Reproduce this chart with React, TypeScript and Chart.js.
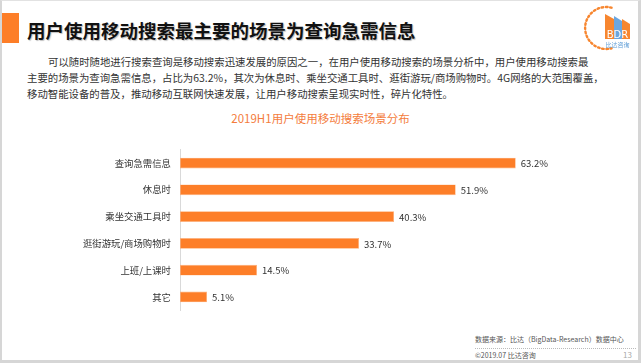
import React, { useEffect, useRef } from "react";
import { Chart, registerables } from "chart.js";

Chart.register(...registerables);

const categories = ["查询急需信息", "休息时", "乘坐交通工具时", "逛街游玩/商场购物时", "上班/上课时", "其它"];
const shares = [63.2, 51.9, 40.3, 33.7, 14.5, 5.1];
const axisMax = 80;

const chartTitle = "2019H1用户使用移动搜索场景分布";
const heading = "用户使用移动搜索最主要的场景为查询急需信息";
const paragraphLines = [
  "可以随时随地进行搜索查询是移动搜索迅速发展的原因之一，在用户使用移动搜索的场景分析中，用户使用移动搜索最",
  "主要的场景为查询急需信息，占比为63.2%，其次为休息时、乘坐交通工具时、逛街游玩/商场购物时。4G网络的大范围覆盖，",
  "移动智能设备的普及，推动移动互联网快速发展，让用户移动搜索呈现实时性，碎片化特性。",
];
const sourceText = "数据来源：比达（BigData-Research）数据中心";
const copyrightText = "©2019.07 比达咨询";
const pageNumber = "13";

const FONT = "'Noto Sans CJK SC', 'Noto Sans', sans-serif";
const ORANGE = "#FD7E28";

const valueLabels = {
  id: "valueLabels",
  afterDatasetsDraw(chart: any) {
    const ctx = chart.ctx;
    const meta = chart.getDatasetMeta(0);
    ctx.save();
    ctx.font = `9.5px ${FONT}`;
    ctx.fillStyle = "#333333";
    ctx.textAlign = "left";
    ctx.textBaseline = "middle";
    meta.data.forEach((bar: any, i: number) => {
      const v = chart.data.datasets[0].data[i];
      ctx.fillText(`${Number(v).toFixed(1)}%`, bar.x + 5, bar.y + 0.5);
    });
    ctx.restore();
  },
};

function BarChart() {
  const ref = useRef<HTMLCanvasElement | null>(null);
  useEffect(() => {
    if (!ref.current) return;
    const chart = new Chart(ref.current, {
      type: "bar",
      data: {
        labels: categories,
        datasets: [
          {
            data: shares,
            backgroundColor: ORANGE,
            borderColor: "#FDB27E",
            borderWidth: 0.6,
            borderSkipped: false,
            barPercentage: 0.4,
            categoryPercentage: 1,
          },
        ],
      },
      options: {
        indexAxis: "y",
        animation: false,
        responsive: false,
        maintainAspectRatio: false,
        layout: { padding: { top: 5, bottom: 7, left: 0, right: 36 } },
        plugins: {
          legend: { display: false },
          tooltip: { enabled: false },
          title: { display: false },
        },
        scales: {
          x: {
            display: false,
            min: 0,
            max: axisMax,
          },
          y: {
            grid: { display: false, drawTicks: false },
            border: { display: true, color: "#D9D9D9", width: 1 },
            ticks: {
              padding: 9,
              color: "#333333",
              font: { family: FONT, size: 9.4 },
            },
            afterFit(scale: any) {
              scale.width = 180;
            },
          },
        },
      },
      plugins: [valueLabels],
    } as any);
    return () => chart.destroy();
  }, []);
  return (
    <canvas
      ref={ref}
      width={641}
      height={190}
      style={{ position: "absolute", left: 0, top: 135, width: 641, height: 190 }}
    />
  );
}

function Logo() {
  const cx = 617;
  const cy = 28;
  const r = 21;
  const a0 = (-105 * Math.PI) / 180;
  const a1 = (105 * Math.PI) / 180;
  const x0 = cx + r * Math.cos(a0);
  const y0 = cy + r * Math.sin(a0);
  const x1 = cx + r * Math.cos(a1);
  const y1 = cy + r * Math.sin(a1);
  return (
    <svg
      width={641}
      height={363}
      style={{ position: "absolute", left: 0, top: 0, pointerEvents: "none" }}
    >
      <path
        d={`M ${x0} ${y0} A ${r} ${r} 0 1 0 ${x1} ${y1}`}
        fill="none"
        stroke="#F7862F"
        strokeWidth={2.4}
        strokeDasharray="1.6 2.6"
        strokeLinecap="round"
      />
      <polygon points="605,30 605,14 614,19 614,30" fill="#F7862F" />
      <polygon points="614,30 614,16 622,21 622,30" fill="#6AA6E0" />
      <polygon points="622,30 622,19 630,24 630,30" fill="#F7862F" />
      <rect x={605} y={28} width={9} height={11} fill="#F7862F" />
      <rect x={614} y={28} width={8} height={11} fill="#6AA6E0" />
      <rect x={622} y={28} width={8} height={11} fill="#F7862F" />
      <text
        x={617.5}
        y={37.5}
        textAnchor="middle"
        fontFamily="'DejaVu Sans', sans-serif"
        fontSize={10}
        fill="#ffffff"
      >
        BDR
      </text>
      <text
        x={617.5}
        y={46.5}
        textAnchor="middle"
        fontFamily={FONT}
        fontSize={6}
        fill="#5B9BD5"
      >
        比达咨询
      </text>
    </svg>
  );
}

export default function App() {
  const lineStyle = (left: number, centerY: number, size: number, lh: number): React.CSSProperties => ({
    position: "absolute",
    left,
    top: centerY - lh / 2,
    fontSize: size,
    lineHeight: `${lh}px`,
    whiteSpace: "nowrap",
    fontFamily: FONT,
  });
  return (
    <div
      style={{
        position: "fixed",
        left: 0,
        top: 0,
        width: 641,
        height: 363,
        background: "#ffffff",
        overflow: "hidden",
        fontFamily: FONT,
      }}
    >
      <div
        style={{
          position: "absolute",
          left: 0,
          top: 0,
          width: 641,
          height: 363,
          boxSizing: "border-box",
          borderLeft: "2px solid #D6D6D6",
          borderTop: "1px solid #E2E2E2",
          borderRight: "3px solid #D6D6D6",
          borderBottom: "3px solid #D6D6D6",
        }}
      />
      <div
        style={{
          position: "absolute",
          left: 2,
          top: 13,
          width: 17,
          height: 30,
          background: "#FD7E28",
        }}
      />
      <div
        style={{
          ...lineStyle(27, 30, 18.5, 24),
          fontWeight: 700,
          color: "#111111",
          textShadow: "1px 1px 1px rgba(0,0,0,0.25)",
        }}
      >
        {heading}
      </div>
      {paragraphLines.map((t, i) => (
        <div key={i} style={{ ...lineStyle(i === 0 ? 48 : 27, 62 + i * 16, 10.4, 14), color: "#333333" }}>
          {t}
        </div>
      ))}
      <div
        style={{
          position: "absolute",
          left: 0,
          width: 641,
          top: 118 - 8,
          lineHeight: "16px",
          fontSize: 11.5,
          textAlign: "center",
          color: "#F47C3C",
          whiteSpace: "nowrap",
          fontFamily: FONT,
        }}
      >
        {chartTitle}
      </div>
      <BarChart />
      <div style={{ ...lineStyle(475, 339, 7, 10), color: "#555555" }}>{sourceText}</div>
      <div
        style={{
          position: "absolute",
          left: 475,
          top: 348,
          width: 161,
          borderTop: "1px dotted #BBBBBB",
        }}
      />
      <div style={{ ...lineStyle(475, 355, 7, 10), color: "#555555" }}>{copyrightText}</div>
      <div
        style={{
          position: "absolute",
          right: 9,
          top: 350,
          lineHeight: "10px",
          fontSize: 8,
          color: "#AAAAAA",
          fontFamily: FONT,
        }}
      >
        {pageNumber}
      </div>
      <Logo />
    </div>
  );
}
